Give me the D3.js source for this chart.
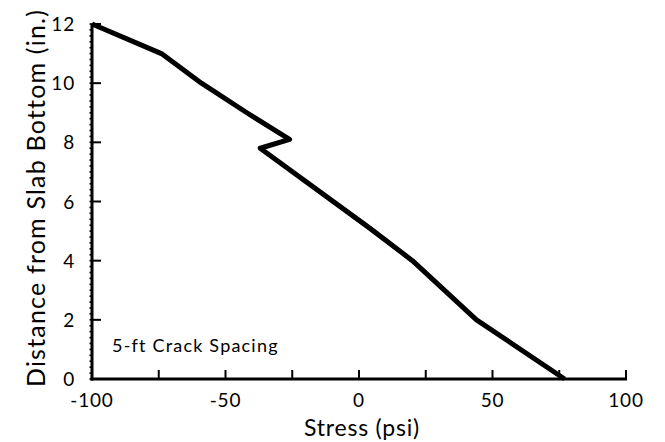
<!DOCTYPE html>
<html><head><meta charset="utf-8">
<script src="https://cdn.jsdelivr.net/npm/d3@7"></script>
<style>body{margin:0;background:#fff;} text{font-family:Lato,"Open Sans",sans-serif;fill:#000;}</style>
</head><body>
<svg id="c" width="665" height="442"></svg>
<script>
const stress = [-100, -74, -59, -42, -26, -37, 4, 20, 44, 77];
const depth  = [12, 11, 10, 9, 8.1, 7.8, 5.1, 4, 2, 0];
const xTicks = [-100, -50, 0, 50, 100];
const xMinor = [-75, -25, 25, 75];
const yTicks = [0, 2, 4, 6, 8, 10, 12];
const xTitle = "Stress (psi)";
const yTitle = "Distance from Slab Bottom (in.)";
const note = "5-ft Crack Spacing";

const svg = d3.select("#c");
const x = d3.scaleLinear().domain([-100, 100]).range([92, 626]);
const y = d3.scaleLinear().domain([0, 12]).range([379, 24]);

// minor y ticks
const yMinor = d3.range(0, 12.01, 0.2);
svg.append("g").selectAll("line").data(yMinor).join("line")
  .attr("x1", x(-100) - 2.5).attr("x2", x(-100)).attr("y1", d => y(d)).attr("y2", d => y(d))
  .attr("stroke", "#000").attr("stroke-width", 1.6);

// axes lines
svg.append("line").attr("x1", x(-100)).attr("x2", x(-100)).attr("y1", y(12)).attr("y2", y(0) + 1.5)
  .attr("stroke", "#000").attr("stroke-width", 3);
svg.append("line").attr("x1", x(-100) - 1.5).attr("x2", x(100) + 1).attr("y1", y(0)).attr("y2", y(0))
  .attr("stroke", "#000").attr("stroke-width", 3);

// x ticks
svg.append("g").selectAll("line").data(xTicks.concat(xMinor).filter(d => d !== -100)).join("line")
  .attr("x1", d => x(d)).attr("x2", d => x(d)).attr("y1", y(0)).attr("y2", y(0) - 9)
  .attr("stroke", "#000").attr("stroke-width", 2);
// y ticks
svg.append("g").selectAll("line").data(yTicks.filter(d => d !== 0)).join("line")
  .attr("x1", x(-100)).attr("x2", x(-100) + 9).attr("y1", d => y(d)).attr("y2", d => y(d))
  .attr("stroke", "#000").attr("stroke-width", 2);

// tick labels
svg.append("g").selectAll("text").data(xTicks).join("text")
  .attr("x", d => x(d)).attr("y", 407).attr("text-anchor", "middle")
  .attr("font-size", 19).attr("letter-spacing", 0.8).text(d => d);
svg.append("g").selectAll("text").data(yTicks).join("text")
  .attr("x", 75).attr("y", d => y(d) + 7).attr("text-anchor", "end")
  .attr("font-size", 19).attr("letter-spacing", 0.8).text(d => d);

// titles
svg.append("text").attr("x", 362).attr("y", 436).attr("text-anchor", "middle")
  .attr("font-size", 23).attr("letter-spacing", 0.8).text(xTitle);
svg.append("text").attr("transform", "translate(45,198) rotate(-90)").attr("text-anchor", "middle")
  .attr("font-size", 25).attr("letter-spacing", 1.2).text(yTitle);

// note
svg.append("text").attr("x", 112).attr("y", 352).attr("font-size", 18)
  .attr("letter-spacing", 1.2).text(note);

// data line
const pts = stress.map((s, i) => [s, depth[i]]);
svg.append("path").datum(pts)
  .attr("d", d3.line().x(d => x(d[0])).y(d => y(d[1])))
  .attr("fill", "none").attr("stroke", "#000").attr("stroke-width", 5)
  .attr("stroke-linejoin", "round");
</script>
</body></html>
